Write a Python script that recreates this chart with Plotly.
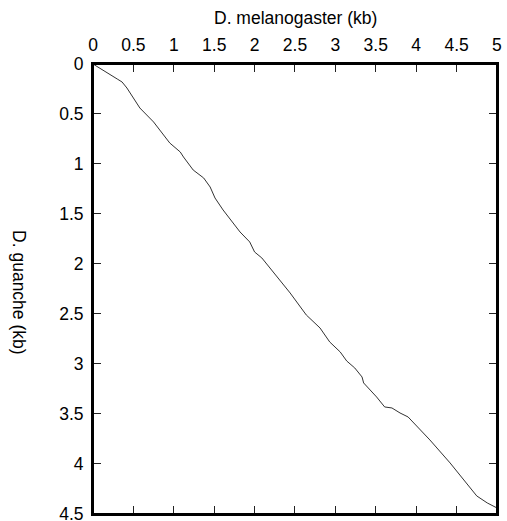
import plotly.graph_objects as go

# D. melanogaster position (kb) and matching D. guanche position (kb)
mel_kb = [0.00, 0.17, 0.30, 0.36, 0.42, 0.50, 0.58, 0.75, 0.87, 0.95, 1.08, 1.12,
          1.24, 1.37, 1.45, 1.51, 1.61, 1.72, 1.82, 1.94, 2.00, 2.09, 2.23, 2.44,
          2.64, 2.81, 2.93, 3.06, 3.14, 3.24, 3.33, 3.35, 3.51, 3.61, 3.70, 3.80,
          3.90, 3.96, 4.17, 4.42, 4.75, 4.88, 4.98, 5.00]
gua_kb = [0.00, 0.09, 0.15, 0.18, 0.24, 0.34, 0.44, 0.58, 0.71, 0.79, 0.88, 0.93,
          1.06, 1.14, 1.23, 1.34, 1.46, 1.58, 1.68, 1.78, 1.88, 1.94, 2.08, 2.29,
          2.51, 2.64, 2.78, 2.88, 2.97, 3.04, 3.13, 3.19, 3.33, 3.43, 3.44, 3.49,
          3.53, 3.58, 3.76, 3.99, 4.32, 4.39, 4.43, 4.44]

x_ticks = [0, 0.5, 1, 1.5, 2, 2.5, 3, 3.5, 4, 4.5, 5]
y_ticks = [0, 0.5, 1, 1.5, 2, 2.5, 3, 3.5, 4, 4.5]

font_family = "Liberation Sans, Arial, Helvetica, sans-serif"

fig = go.Figure()
fig.add_trace(go.Scatter(x=mel_kb, y=gua_kb, mode="lines",
                         line=dict(color="#333333", width=1), showlegend=False))

axis_common = dict(ticks="inside", ticklen=8, tickwidth=1.2, tickcolor="#222222",
                   showline=True, linecolor="black", linewidth=2, mirror="ticks",
                   showgrid=False, zeroline=False, ticklabelstandoff=4,
                   ticklabeloverflow="allow", automargin=False)

fig.update_layout(
    width=507, height=521,
    autosize=False,
    margin=dict(l=93, r=10, t=64, b=7, autoexpand=False),
    paper_bgcolor="white", plot_bgcolor="white",
    font=dict(family=font_family, size=17.5, color="black"),
    xaxis=dict(side="top", range=[0, 5.0005], tickvals=x_ticks,
               ticktext=[f"{v:g}" for v in x_ticks], **axis_common),
    yaxis=dict(range=[4.5005, 0], tickvals=y_ticks,
               ticktext=[f"{v:g}" for v in y_ticks], **axis_common),
    shapes=[dict(type="rect", xref="paper", yref="paper", x0=0, y0=0, x1=1, y1=1,
                 line=dict(color="black", width=2), fillcolor="rgba(0,0,0,0)",
                 layer="above")],
    annotations=[
        dict(text="D. melanogaster (kb)", xref="paper", yref="paper",
             x=0.5, y=1.102, showarrow=False, font=dict(size=17.5),
             xanchor="center", yanchor="middle"),
        dict(text="D. guanche (kb)", xref="paper", yref="paper",
             x=-0.183, y=0.493, showarrow=False, textangle=90,
             font=dict(size=17.5), xanchor="center", yanchor="middle"),
    ],
)

fig.write_html("out.html",
               config={"displayModeBar": False},
               post_script="document.body.style.margin='0';"
                           "document.body.style.overflow='hidden';")
